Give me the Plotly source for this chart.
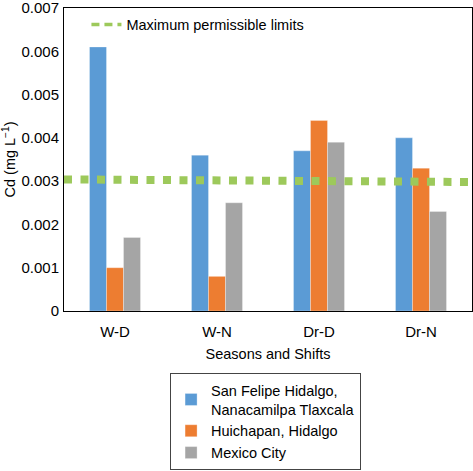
import plotly.graph_objects as go

categories = ["W-D", "W-N", "Dr-D", "Dr-N"]
san_felipe = [0.0061, 0.0036, 0.0037, 0.0040]
huichapan = [0.0010, 0.0008, 0.0044, 0.0033]
mexico_city = [0.0017, 0.0025, 0.0039, 0.0023]
limit_x = [0, 1]
limit_y = [0.00304, 0.00298]
y_ticks = [0, 0.001, 0.002, 0.003, 0.004, 0.005, 0.006, 0.007]
y_tick_text = ["0", "0.001", "0.002", "0.003", "0.004", "0.005", "0.006", "0.007"]

font = "Liberation Sans, Arial, sans-serif"
green = "#9DC95B"
fig = go.Figure()
series = [
    ("San Felipe Hidalgo,<br>Nanacamilpa Tlaxcala", san_felipe, "#5B9BD5"),
    ("Huichapan, Hidalgo", huichapan, "#ED7D31"),
    ("Mexico City", mexico_city, "#A5A5A5"),
]
for name, vals, col in series:
    fig.add_trace(go.Bar(x=categories, y=vals, name=name, marker_color=col,
                         marker_line=dict(color="rgba(255,255,255,0.6)", width=0.5),
                         legend="legend"))

fig.add_trace(go.Scatter(x=limit_x, y=limit_y, mode="lines", xaxis="x2",
                         name="Maximum permissible limits", showlegend=False,
                         line=dict(color=green, width=8, dash="8px,8.5px")))
# legend sample (thinner dash, as in the reference legend)
fig.add_trace(go.Scatter(x=[None], y=[None], mode="lines", xaxis="x2",
                         name="Maximum permissible limits",
                         line=dict(color=green, width=3.5, dash="8px,5px"),
                         legend="legend2"))

fig.update_layout(
    width=473, height=471,
    margin=dict(l=64, r=1, t=8, b=155),
    plot_bgcolor="white", paper_bgcolor="white",
    font=dict(family=font, size=14.5, color="black"),
    hovermode=False,
    barmode="group", bargap=0.5, bargroupgap=0,
    xaxis=dict(showline=True, linecolor="black", linewidth=1, mirror=True,
               ticks="", automargin=False, ticklabelstandoff=7,
               title=dict(text="Seasons and Shifts", standoff=9, font=dict(size=14.5)),
               tickfont=dict(size=15)),
    xaxis2=dict(overlaying="x", range=[0, 1], visible=False, showgrid=False),
    yaxis=dict(range=[0, 0.00700001], tickvals=y_ticks, ticktext=y_tick_text,
               showline=True, linecolor="black", linewidth=1, mirror=True,
               showgrid=False, zeroline=False, ticks="", automargin=False,
               ticklabelstandoff=1, ticklabeloverflow="allow", tickfont=dict(size=15),
               title=dict(text="Cd (mg L<sup>−1</sup>)", standoff=2, font=dict(size=14.5))),
    legend=dict(x=0.26, y=-0.205, xanchor="left", yanchor="top",
                bordercolor="#444", borderwidth=1, tracegroupgap=0,
                font=dict(size=14.5)),
    legend2=dict(x=0.055, y=0.998, xanchor="left", yanchor="top",
                 bgcolor="rgba(0,0,0,0)", font=dict(size=14.5)),
)
fig.write_html("out.html", config={"displayModeBar": False},
               post_script="document.body.style.margin='0';document.body.style.overflow='hidden';")
